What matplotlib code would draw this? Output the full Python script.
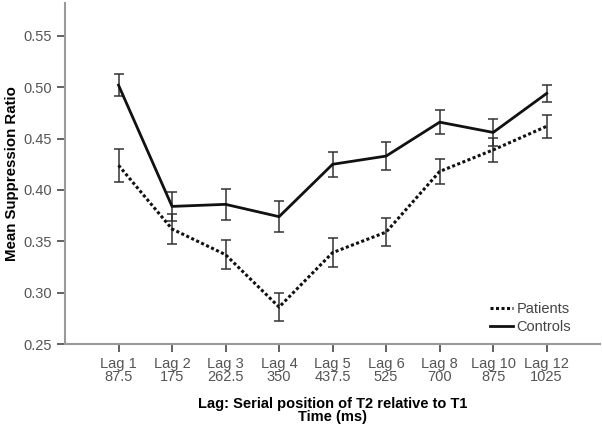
import numpy as np
import matplotlib
matplotlib.use('Agg')
import matplotlib.pyplot as plt

plt.rcParams['font.family'] = ['Liberation Sans', 'DejaVu Sans']

lags = ['Lag 1\n87.5', 'Lag 2\n175', 'Lag 3\n262.5', 'Lag 4\n350', 'Lag 5\n437.5',
        'Lag 6\n525', 'Lag 8\n700', 'Lag 10\n875', 'Lag 12\n1025']

controls = [0.502, 0.384, 0.386, 0.374, 0.425, 0.433, 0.466, 0.456, 0.494]
controls_err = [0.011, 0.014, 0.015, 0.015, 0.012, 0.014, 0.012, 0.013, 0.008]
patients = [0.424, 0.362, 0.337, 0.286, 0.339, 0.359, 0.418, 0.439, 0.462]
patients_err = [0.016, 0.015, 0.014, 0.014, 0.014, 0.014, 0.012, 0.012, 0.011]

x = np.arange(len(lags))

fig = plt.figure(figsize=(6.02, 4.29), dpi=100)
ax = fig.add_axes([0.108, 0.198, 0.889, 0.795])

# error bars first, then lines
ax.errorbar(x, patients, yerr=patients_err, fmt='none', ecolor='#333333',
            elinewidth=1.1, capsize=3.8, capthick=1.1)
ax.errorbar(x, controls, yerr=controls_err, fmt='none', ecolor='#333333',
            elinewidth=1.1, capsize=3.8, capthick=1.1)
ax.plot(x, patients, color='#111111', lw=2.2, ls=(0, (1, 0.8)), label='Patients')
ax.plot(x, controls, color='#111111', lw=2.0, ls='-', label='Controls')

ax.set_xlim(-1, 9)
ax.set_ylim(0.25, 0.582)
ax.set_yticks([0.25, 0.30, 0.35, 0.40, 0.45, 0.50, 0.55])
ax.set_yticklabels(['0.25', '0.30', '0.35', '0.40', '0.45', '0.50', '0.55'])
ax.set_xticks(x)
ax.set_xticklabels(lags, linespacing=0.9)

for s in ['top', 'right']:
    ax.spines[s].set_visible(False)
for s in ['left', 'bottom']:
    ax.spines[s].set_color('#999999')
    ax.spines[s].set_linewidth(1.5)
ax.tick_params(axis='both', colors='#555555', labelcolor='#555555',
               labelsize=10.5, length=6, width=1.3, direction='out')

ax.set_ylabel('Mean Suppression Ratio', fontsize=10.8, fontweight='bold', labelpad=3)
ax.set_xlabel('Lag: Serial position of T2 relative to T1\nTime (ms)', fontsize=10.5,
              fontweight='bold', linespacing=0.95, labelpad=9)

leg = ax.legend(loc='lower right', bbox_to_anchor=(0.97, -0.008), frameon=False,
                handlelength=1.6, handletextpad=0.2, labelspacing=0.25, fontsize=10.5)
for t in leg.get_texts():
    t.set_color('#444444')

fig.savefig('out.png', dpi=100)
